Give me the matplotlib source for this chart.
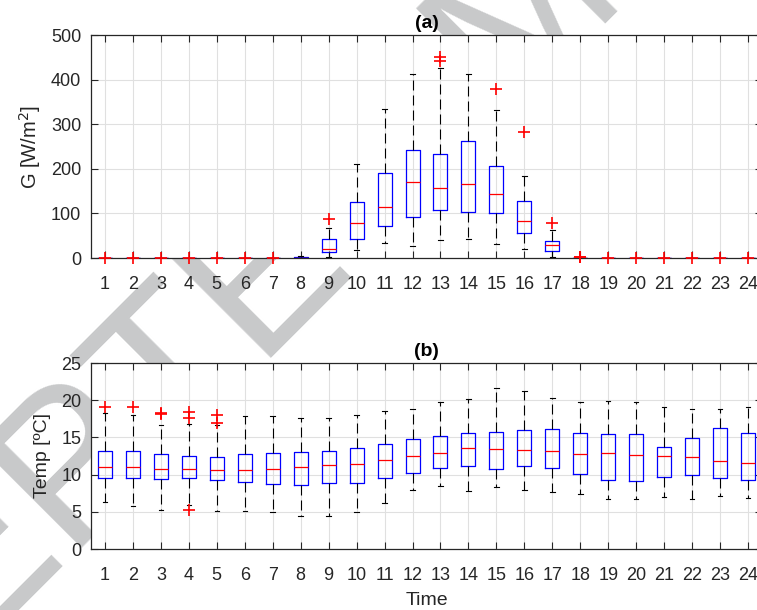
import numpy as np
import matplotlib.pyplot as plt

plt.rcParams['font.family'] = ['Liberation Sans', 'DejaVu Sans']

hours = list(range(1, 25))

# (a) solar irradiance G [W/m2] - box statistics per hour
g_lo = [0, 0, 0, 0, 0, 0, 0, 0, 3, 18, 33.6, 27.6, 41, 42.6, 30.6, 20, 3, 0,
        0, 0, 0, 0, 0, 0]
g_q1 = [0, 0, 0, 0, 0, 0, 0, 0, 12.7, 42, 71, 92.6, 107, 103, 101, 55.4, 15.7, 0,
        0, 0, 0, 0, 0, 0]
g_med = [0, 0, 0, 0, 0, 0, 0, 0.3, 21, 78.5, 113.6, 169.7, 157.6, 165, 144, 83.7, 28.4, 0,
         0, 0, 0, 0, 0, 0]
g_q3 = [0, 0, 0, 0, 0, 0, 0, 1.5, 42.6, 125, 191, 242, 233.9, 262.3, 207, 127.8, 37.4, 0.5,
        0, 0, 0, 0, 0, 0]
g_hi = [0, 0, 0, 0, 0, 0, 0, 4, 68, 210, 335, 412.5, 425.3, 412.5, 331.8, 184.5, 62.8, 1,
        0, 0, 0, 0, 0, 0]
g_out = [[0], [0], [0], [0], [0], [0], [0], [], [87], [], [], [], [450, 442], [], [380],
         [283], [78], [1.5, 3], [0], [0], [0], [0], [0], [0]]

# (b) temperature [ºC]
t_lo = [6.3, 5.8, 5.3, 5.95, 5.05, 5.14, 4.95, 4.41, 4.41, 5.0, 6.17, 7.88, 8.47, 7.79,
        8.33, 7.88, 7.66, 7.43, 6.67, 6.76, 6.98, 6.76, 7.07, 6.85]
t_q1 = [9.55, 9.5, 9.46, 9.58, 9.32, 9.0, 8.78, 8.65, 8.87, 8.92, 9.6, 10.25, 10.9, 11.13,
        10.81, 11.13, 10.86, 10.14, 9.23, 9.14, 9.73, 10.0, 9.6, 9.28]
t_med = [11.0, 10.97, 10.79, 10.77, 10.68, 10.68, 10.77, 10.99, 11.26, 11.44, 11.98, 12.55,
         12.88, 13.6, 13.42, 13.24, 13.11, 12.75, 12.93, 12.66, 12.48, 12.39, 11.8, 11.53]
t_q3 = [13.2, 13.2, 12.75, 12.52, 12.39, 12.75, 12.93, 13.06, 13.2, 13.6, 14.05, 14.82,
        15.23, 15.63, 15.77, 15.99, 16.08, 15.63, 15.5, 15.5, 13.65, 14.95, 16.22, 15.54]
t_hi = [18.24, 18.06, 16.6, 16.76, 16.7, 17.84, 17.88, 17.57, 17.66, 18.06, 18.56, 18.85,
        19.73, 20.18, 21.62, 21.3, 20.27, 19.77, 19.95, 19.77, 19.1, 18.78, 18.83, 19.1]
t_out = [[19.05], [19.05], [18.29, 18.1], [18.38, 17.57, 5.18], [18.0, 16.94]] + [[]] * 19


def make_stats(lo, q1, med, q3, hi, out):
    return [dict(whislo=a, q1=b, med=c, q3=d, whishi=e, fliers=f)
            for a, b, c, d, e, f in zip(lo, q1, med, q3, hi, out)]


W, H = 757, 610
fig = plt.figure(figsize=(W / 100, H / 100), dpi=100)

# page watermark, mostly hidden behind the axes
fig.text(-342 / W, 1 - 972 / H, 'ACCEPTED MANUSCRIPT', rotation=45,
         rotation_mode='anchor', ha='left', va='baseline', fontsize=151,
         color='#c8c9ca', zorder=-1)

ax1 = fig.add_axes([91 / W, 1 - 258 / H, 671 / W, 223 / H])
ax2 = fig.add_axes([91 / W, 1 - 549 / H, 671 / W, 186 / H])

box_kw = dict(positions=hours, widths=0.5, capwidths=0.16, manage_ticks=False,
              boxprops=dict(color='blue', lw=0.9),
              medianprops=dict(color='red', lw=0.9),
              whiskerprops=dict(color='black', lw=0.8, linestyle=(0, (9, 4.5))),
              capprops=dict(color='black', lw=0.8),
              flierprops=dict(marker='+', markersize=9, markeredgecolor='red',
                              markeredgewidth=1.2, linestyle='none'))

for ax, st in ((ax1, make_stats(g_lo, g_q1, g_med, g_q3, g_hi, g_out)),
               (ax2, make_stats(t_lo, t_q1, t_med, t_q3, t_hi, t_out))):
    parts = ax.bxp(st, **box_kw)
    for f in parts['fliers']:
        f.set_clip_on(False)
        f.set_zorder(5)

ax1.set_ylim(0, 500)
ax1.set_yticks(range(0, 501, 100))
ax2.set_ylim(0, 25)
ax2.set_yticks(range(0, 26, 5))

for ax in (ax1, ax2):
    ax.set_xlim(0.5, 24.5)
    ax.set_xticks(hours)
    ax.grid(True, color='#e0e0e0', lw=0.8)
    ax.set_axisbelow(True)
    ax.tick_params(direction='in', length=5, width=0.8, top=True, right=True,
                   labelsize=13, colors='#262626')
    ax.tick_params(axis='x', pad=13)
    ax.tick_params(axis='y', pad=7)
    for s in ax.spines.values():
        s.set_color('#262626')
        s.set_linewidth(0.9)

ax1.set_title('(a)', fontweight='bold', fontsize=14, pad=5)
ax2.set_title('(b)', fontweight='bold', fontsize=14, pad=5)
ax1.set_ylabel('G [W/m$^2$]', fontsize=14.5, color='#262626', labelpad=6)
ax2.set_ylabel('Temp [ºC]', fontsize=14, color='#262626', labelpad=7)
ax2.set_xlabel('Time', fontsize=14, color='#262626', labelpad=6)

fig.savefig('out.png', dpi=100)
